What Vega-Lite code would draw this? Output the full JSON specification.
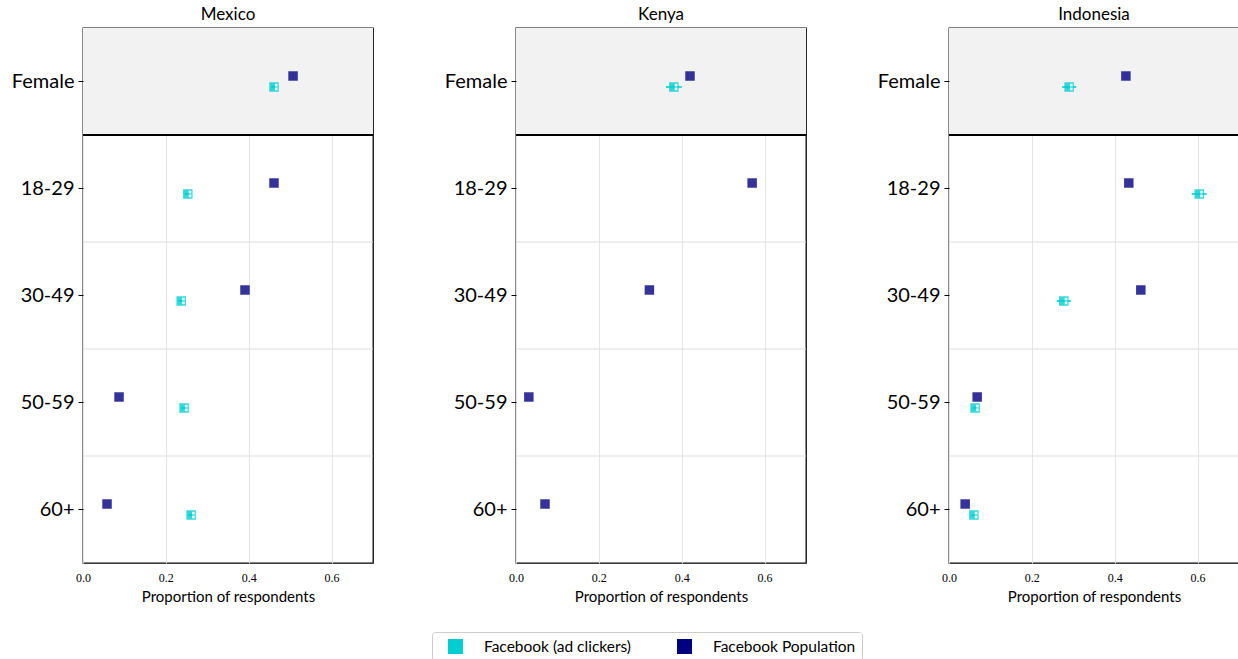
{
  "$schema": "https://vega.github.io/schema/vega-lite/v6.json",
  "padding": {"left": 10, "top": 6, "right": 0, "bottom": 0},
  "background": "white",
  "data": {"values": [
    {"country": "Mexico", "group": "Female", "series": "Facebook Population", "value": 0.507},
    {"country": "Mexico", "group": "Female", "series": "Facebook (ad clickers)", "value": 0.461, "lo": 0.454, "hi": 0.468},
    {"country": "Mexico", "group": "18-29", "series": "Facebook Population", "value": 0.461},
    {"country": "Mexico", "group": "18-29", "series": "Facebook (ad clickers)", "value": 0.253, "lo": 0.246, "hi": 0.26},
    {"country": "Mexico", "group": "30-49", "series": "Facebook Population", "value": 0.391},
    {"country": "Mexico", "group": "30-49", "series": "Facebook (ad clickers)", "value": 0.237, "lo": 0.23, "hi": 0.244},
    {"country": "Mexico", "group": "50-59", "series": "Facebook Population", "value": 0.087},
    {"country": "Mexico", "group": "50-59", "series": "Facebook (ad clickers)", "value": 0.244, "lo": 0.237, "hi": 0.251},
    {"country": "Mexico", "group": "60+", "series": "Facebook Population", "value": 0.058},
    {"country": "Mexico", "group": "60+", "series": "Facebook (ad clickers)", "value": 0.261, "lo": 0.254, "hi": 0.268},
    {"country": "Kenya", "group": "Female", "series": "Facebook Population", "value": 0.42},
    {"country": "Kenya", "group": "Female", "series": "Facebook (ad clickers)", "value": 0.381, "lo": 0.362, "hi": 0.4},
    {"country": "Kenya", "group": "18-29", "series": "Facebook Population", "value": 0.57},
    {"country": "Kenya", "group": "30-49", "series": "Facebook Population", "value": 0.322},
    {"country": "Kenya", "group": "50-59", "series": "Facebook Population", "value": 0.031},
    {"country": "Kenya", "group": "60+", "series": "Facebook Population", "value": 0.07},
    {"country": "Indonesia", "group": "Female", "series": "Facebook Population", "value": 0.427},
    {"country": "Indonesia", "group": "Female", "series": "Facebook (ad clickers)", "value": 0.29, "lo": 0.273, "hi": 0.307},
    {"country": "Indonesia", "group": "18-29", "series": "Facebook Population", "value": 0.434},
    {"country": "Indonesia", "group": "18-29", "series": "Facebook (ad clickers)", "value": 0.604, "lo": 0.586, "hi": 0.622},
    {"country": "Indonesia", "group": "30-49", "series": "Facebook Population", "value": 0.463},
    {"country": "Indonesia", "group": "30-49", "series": "Facebook (ad clickers)", "value": 0.277, "lo": 0.26, "hi": 0.294},
    {"country": "Indonesia", "group": "50-59", "series": "Facebook Population", "value": 0.068},
    {"country": "Indonesia", "group": "50-59", "series": "Facebook (ad clickers)", "value": 0.063, "lo": 0.057, "hi": 0.069},
    {"country": "Indonesia", "group": "60+", "series": "Facebook Population", "value": 0.039},
    {"country": "Indonesia", "group": "60+", "series": "Facebook (ad clickers)", "value": 0.06, "lo": 0.054, "hi": 0.066}
  ]},
  "facet": {
    "column": {
      "field": "country", "type": "nominal",
      "sort": ["Mexico", "Kenya", "Indonesia"],
      "header": {"title": null, "labelFont": "Lato", "labelFontSize": 17, "labelColor": "black", "labelPadding": 4}
    }
  },
  "spacing": {"column": 143},
  "bounds": "flush",
  "resolve": {"axis": {"y": "independent", "x": "independent"}},
  "spec": {
    "width": 290,
    "height": 535,
    "layer": [
      {
        "transform": [{"filter": "datum.group === 'Female' && datum.series === 'Facebook Population'"}],
        "mark": {"type": "rect", "color": "#f2f2f2"},
        "encoding": {
          "y": {"field": "group", "type": "nominal", "scale": {"domain": ["Female", "18-29", "30-49", "50-59", "60+"], "paddingInner": 0, "paddingOuter": 0}},
          "x": {"datum": 0, "type": "quantitative", "scale": {"domain": [0, 0.7], "nice": false},
                "axis": {"values": [0, 0.2, 0.4, 0.6], "format": ".1f", "title": "Proportion of respondents"}},
          "x2": {"datum": 0.7}
        }
      },
      {
        "transform": [{"filter": "datum.group !== 'Female' && datum.series === 'Facebook Population'"}],
        "mark": {"type": "rule"},
        "encoding": {
          "y": {"field": "group", "type": "nominal", "bandPosition": 0},
          "color": {"condition": {"test": "datum.group === '18-29'", "value": "black"}, "value": "#dddddd"},
          "strokeWidth": {"condition": {"test": "datum.group === '18-29'", "value": 2}, "value": 1}
        }
      },
      {
        "transform": [{"filter": "datum.series === 'Facebook (ad clickers)'"}],
        "mark": {"type": "rule", "color": "#00CED1", "strokeWidth": 2, "opacity": 0.8, "yOffset": 5.5},
        "encoding": {
          "y": {"field": "group", "type": "nominal"},
          "x": {"field": "lo", "type": "quantitative"},
          "x2": {"field": "hi"}
        }
      },
      {
        "transform": [{"filter": "datum.series === 'Facebook Population'"}],
        "mark": {"type": "point", "shape": "square", "filled": true, "size": 90, "opacity": 0.8, "yOffset": -5.5},
        "encoding": {
          "y": {"field": "group", "type": "nominal"},
          "x": {"field": "value", "type": "quantitative"},
          "color": {"field": "series", "type": "nominal", "scale": {"domain": ["Facebook (ad clickers)", "Facebook Population"], "range": ["#00CED1", "#000080"]},
                    "legend": {"title": null, "orient": "none", "legendX": 349, "legendY": 604}}
        }
      },
      {
        "transform": [{"filter": "datum.series === 'Facebook (ad clickers)'"}],
        "mark": {"type": "point", "shape": "square", "filled": true, "size": 90, "opacity": 0.8, "yOffset": 5.5},
        "encoding": {
          "y": {"field": "group", "type": "nominal"},
          "x": {"field": "value", "type": "quantitative"},
          "color": {"field": "series", "type": "nominal"}
        }
      },
      {
        "transform": [{"filter": "datum.series === 'Facebook (ad clickers)'"}],
        "mark": {"type": "point", "shape": "M0.2,-0.7H0.75V-0.12H0.2Z M0.2,0.12H0.75V0.7H0.2Z", "filled": true, "size": 90, "color": "white", "opacity": 0.9, "yOffset": 5.5},
        "encoding": {
          "y": {"field": "group", "type": "nominal"},
          "x": {"field": "value", "type": "quantitative"}
        }
      }
    ]
  },
  "config": {
    "view": {"stroke": "black", "strokeWidth": 1.3},
    "axisX": {
      "grid": true, "gridColor": "#e5e5e5",
      "domain": false, "ticks": false, "labelFlush": false,
      "labelFont": "Liberation Serif", "labelFontSize": 12, "labelColor": "black", "labelPadding": 9,
      "titleFont": "Lato", "titleFontSize": 15, "titleFontWeight": "normal", "titleColor": "black", "titlePadding": 6
    },
    "axisY": {
      "title": null, "grid": false, "domain": false, "tickColor": "black", "tickSize": 5,
      "labelFont": "Lato", "labelFontSize": 20, "labelColor": "black", "labelPadding": 4
    },
    "legend": {
      "direction": "horizontal", "labelFont": "Lato", "labelFontSize": 15.5, "labelColor": "black",
      "symbolType": "square", "symbolSize": 225, "symbolOpacity": 1, "strokeColor": "#cccccc", "padding": 6,
      "cornerRadius": 3, "columnPadding": 35, "labelOffset": 20, "symbolOffset": 9
    }
  }
}
